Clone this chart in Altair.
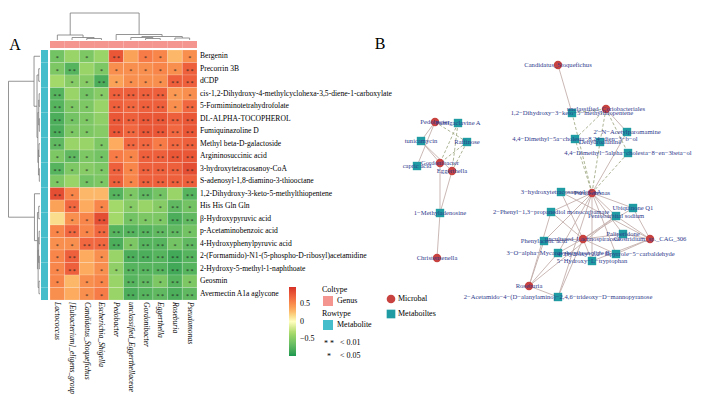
import altair as alt
import pandas as pd

# ---------------- Panel A data ----------------
rows = ["Bergenin", "Precorrin 3B", "dCDP",
        "cis-1,2-Dihydroxy-4-methylcyclohexa-3,5-diene-1-carboxylate",
        "5-Formiminotetrahydrofolate", "DL-ALPHA-TOCOPHEROL", "Fumiquinazoline D",
        "Methyl beta-D-galactoside", "Argininosuccinic acid", "3-hydroxytetracosanoy-CoA",
        "S-adenosyl-1,8-diamino-3-thiooctane", "1,2-Dihydroxy-3-keto-5-methylthiopentene",
        "His His Gln Gln", "\u03b2-Hydroxypyruvic acid", "p-Acetaminobenzoic acid",
        "4-Hydroxyphenylpyruvic acid", "2-(Formamido)-N1-(5-phospho-D-ribosyl)acetamidine",
        "2-Hydroxy-5-methyl-1-naphthoate", "Geosmin", "Avermectin A1a aglycone"]

cols = ["Lactococcus", "[Eubacterium]_eligens_group", "Candidatus_Stoquefichus",
        "Escherichia_Shigella", "Pedobacter", "unclassified_Eggerthellaceae",
        "Gordonibacter", "Eggerthella", "Roseburia", "Pseudomonas"]

corr = [
    [-0.60, -0.40, -0.55, -0.40, 0.80, 0.40, 0.60, 0.55, 0.30, 0.50],
    [-0.55, -0.75, -0.40, -0.55, 0.50, 0.50, 0.50, 0.55, 0.50, 0.75],
    [-0.35, -0.50, -0.50, -0.80, 0.40, 0.50, 0.50, 0.50, 0.75, 0.75],
    [-0.75, -0.40, -0.60, -0.50, 0.75, 0.75, 0.75, 0.75, 0.45, 0.50],
    [-0.75, -0.55, -0.55, -0.40, 0.75, 0.70, 0.75, 0.75, 0.50, 0.70],
    [-0.80, -0.60, -0.55, -0.45, 0.80, 0.75, 0.80, 0.80, 0.75, 0.80],
    [-0.80, -0.55, -0.55, -0.50, 0.80, 0.70, 0.80, 0.80, 0.70, 0.80],
    [-0.70, -0.40, -0.40, -0.55, 0.35, 0.70, 0.70, 0.60, 0.70, 0.75],
    [-0.55, -0.70, -0.55, -0.60, 0.60, 0.55, 0.75, 0.75, 0.80, 0.80],
    [-0.75, -0.55, -0.50, -0.55, 0.75, 0.55, 0.75, 0.75, 0.75, 0.85],
    [-0.55, -0.40, -0.60, -0.55, 0.75, 0.55, 0.75, 0.75, 0.75, 0.75],
    [0.85, 0.55, 0.30, 0.30, -0.75, -0.55, -0.70, -0.60, -0.40, -0.75],
    [0.40, 0.70, 0.35, 0.55, -0.35, -0.50, -0.40, -0.50, -0.70, -0.60],
    [0.15, 0.50, 0.55, 0.85, -0.35, -0.60, -0.55, -0.55, -0.80, -0.70],
    [0.55, 0.70, 0.55, 0.70, -0.75, -0.75, -0.75, -0.70, -0.70, -0.60],
    [0.50, 0.50, 0.70, 0.70, -0.80, -0.55, -0.75, -0.75, -0.60, -0.70],
    [0.55, 0.75, 0.35, 0.50, -0.40, -0.80, -0.80, -0.75, -0.85, -0.75],
    [0.55, 0.75, 0.35, 0.50, -0.45, -0.75, -0.75, -0.75, -0.85, -0.75],
    [0.55, 0.30, 0.50, 0.55, -0.40, -0.75, -0.70, -0.55, -0.75, -0.55],
    [0.50, 0.35, 0.50, 0.60, -0.40, -0.80, -0.75, -0.70, -0.80, -0.70],
]

# 0 = n.s., 1 = p<0.05, 2 = p<0.01
sig = [
    [1, 0, 1, 0, 2, 0, 1, 1, 0, 1],
    [1, 2, 0, 1, 1, 1, 1, 1, 1, 2],
    [0, 1, 1, 2, 1, 1, 1, 1, 2, 2],
    [2, 0, 1, 1, 2, 2, 2, 2, 1, 1],
    [2, 1, 1, 0, 2, 2, 2, 2, 1, 2],
    [2, 1, 1, 0, 2, 2, 2, 2, 2, 2],
    [2, 1, 1, 0, 2, 2, 2, 2, 2, 2],
    [2, 0, 0, 1, 0, 2, 2, 1, 2, 2],
    [1, 2, 1, 1, 1, 1, 2, 2, 2, 2],
    [2, 1, 1, 1, 2, 1, 2, 2, 2, 2],
    [1, 0, 1, 1, 2, 1, 2, 2, 2, 2],
    [2, 1, 0, 0, 2, 1, 2, 1, 0, 2],
    [0, 2, 0, 1, 0, 1, 0, 1, 2, 1],
    [0, 1, 1, 2, 0, 1, 1, 1, 2, 2],
    [1, 2, 1, 2, 2, 2, 2, 2, 2, 1],
    [1, 1, 2, 2, 2, 1, 2, 2, 1, 2],
    [1, 2, 0, 1, 0, 2, 2, 2, 2, 2],
    [1, 2, 0, 1, 1, 2, 2, 2, 2, 2],
    [1, 0, 1, 1, 0, 2, 2, 1, 2, 1],
    [0, 0, 1, 1, 0, 2, 2, 2, 2, 2],
]
sig_marks = ["", "*", "* *"]

# hierarchical clustering merges: (left id, right id, height); leaves are 0..n-1
col_merges = [(2, 3, 1.5), (1, 10, 2.5), (0, 11, 5.0), (6, 7, 1.5), (5, 13, 2.5),
              (8, 9, 2.0), (14, 15, 3.5), (4, 16, 5.5), (12, 17, 27.0)]
row_merges = [(1, 2, 1.5), (3, 4, 1.0), (5, 6, 0.8), (21, 22, 1.5), (7, 8, 1.2),
              (9, 10, 0.8), (24, 25, 1.8), (23, 26, 2.5), (20, 27, 3.5), (0, 28, 7.0),
              (12, 13, 1.5), (14, 15, 1.0), (16, 17, 0.8), (18, 19, 1.2), (31, 32, 1.6),
              (34, 33, 2.2), (30, 35, 3.0), (11, 36, 6.5), (29, 37, 37.0)]

# ---------------- Panel B data ----------------
net_names = ["Pedobacter", "Fumigaclavine A", "tunicamycin", "Raffinose", "Gordonibacter",
             "capric acid", "Eggerthella", "1-Methyladenosine", "Christensenella",
             "Candidatus_Stoquefichus", "1,2-Dihydroxy-3-keto-5-methylthiopentene",
             "unclassified_Coriobacteriales", "2'-N-Acetylparomamine",
             "4,4-Dimethyl-5a-cholesta-8,24-dien-3-b-ol", "Dehydroalanine",
             "4,4-Dimethyl-5alpha-cholesta-8-en-3beta-ol", "3-hydroxytetracosanoyl-CoA",
             "Pseudomonas", "Ubiquinone Q1", "2-Phenyl-1,3-propanediol monocarbamate",
             "Pentobarbital sodium", "Phenylacetic acid", "uncultured_Lachnospiraceae",
             "Paliperidone", "Clostridium_sp._CAG_306", "3-O-alpha-Mycarosylerythronolide B",
             "4-Hydroxy-2,2'-bipyrrole-5-carbaldehyde", "5-Hydroxy-L-tryptophan", "Roseburia",
             "2-Acetamido-4-(D-alanylamino)-2,4,6-trideoxy-D-mannopyranose"]
net_type = ["Microbal", "Metaboiltes", "Metaboiltes", "Metaboiltes", "Microbal",
            "Metaboiltes", "Microbal", "Metaboiltes", "Microbal",
            "Microbal", "Metaboiltes", "Microbal", "Metaboiltes", "Metaboiltes", "Metaboiltes",
            "Metaboiltes", "Metaboiltes", "Microbal", "Metaboiltes", "Metaboiltes",
            "Metaboiltes", "Metaboiltes", "Microbal", "Metaboiltes", "Microbal", "Metaboiltes",
            "Metaboiltes", "Metaboiltes", "Microbal", "Metaboiltes"]
# layout coordinates of the network
net_x = [435, 458, 421, 467, 440, 417, 452, 440, 437,
         558, 572, 606, 627, 575, 600, 628, 561, 592, 633, 551,
         616, 544, 583, 623, 650, 558, 616, 592, 529, 558]
net_y = [122, 123, 141, 142, 163, 166, 171, 213, 258,
         65, 113, 109, 132, 139, 142, 153, 192, 193, 208, 212,
         216, 241, 239, 234, 239, 253, 254, 261, 286, 297]

edges_pos = [(0, 5), (0, 2), (2, 4), (2, 6), (4, 7), (6, 7), (8, 7),
             (9, 10), (11, 12), (17, 12),
             (17, 16), (17, 18), (17, 19), (17, 20), (17, 23), (17, 21), (17, 25), (17, 26),
             (17, 27), (17, 29),
             (22, 16), (22, 19), (22, 18), (22, 20), (22, 23), (22, 21), (22, 25), (22, 26),
             (22, 27), (22, 29),
             (24, 18), (24, 20), (24, 23), (24, 26), (24, 27), (24, 16),
             (28, 21), (28, 29), (28, 25), (28, 20), (28, 19)]
edges_neg = [(0, 3), (1, 4), (1, 6), (3, 4), (3, 6),
             (11, 10), (11, 13), (11, 14), (11, 15),
             (17, 10), (17, 13), (17, 14), (17, 15)]

legend_types = ["Microbal", "Metaboiltes"]

# ---------------- styling / layout ----------------
SERIF = "Liberation Serif"
HM_X = [42, 189]
HM_Y = [42, 292]
heat_colors = ["#1a9850", "#66bd63", "#a6d96a", "#ffffbf", "#fdae61", "#f46d43", "#d73027"]
heat_domain = [-1, -2 / 3, -1 / 3, 0, 1 / 3, 2 / 3, 1]
NODE_COLORS = ["#C8423F", "#1F9CA3"]
LINE_GREY = "#7a7a7a"

xs_col = alt.Scale(domain=[0, 10], range=HM_X)
ys_row = alt.Scale(domain=[0, 20], range=HM_Y)

cells = []
for i, r in enumerate(rows):
    for j, c in enumerate(cols):
        cells.append(dict(row=r, col=c, ri=i, ri2=i + 1, rc=i + 0.5, ci=j, ci2=j + 1,
                          cc=j + 0.5, v=corr[i][j], s=sig_marks[sig[i][j]]))
cells = pd.DataFrame(cells)


def dendro(merges, n):
    pos = {k: k + 0.5 for k in range(n)}
    hgt = {k: 0.0 for k in range(n)}
    segs = []
    for k, (a, b, h) in enumerate(merges):
        segs.append(dict(p1=pos[a], h1=hgt[a], p2=pos[a], h2=h))
        segs.append(dict(p1=pos[b], h1=hgt[b], p2=pos[b], h2=h))
        segs.append(dict(p1=pos[a], h1=h, p2=pos[b], h2=h))
        pos[n + k] = (pos[a] + pos[b]) / 2
        hgt[n + k] = h
    return pd.DataFrame(segs)


col_seg = dendro(col_merges, len(cols))
row_seg = dendro(row_merges, len(rows))

heat = alt.Chart(cells).mark_rect(stroke="white", strokeWidth=0.3, strokeOpacity=0.6).encode(
    x=alt.X("ci:Q", scale=xs_col, axis=None), x2="ci2:Q",
    y=alt.Y("ri:Q", scale=ys_row, axis=None), y2="ri2:Q",
    color=alt.Color("v:Q", scale=alt.Scale(domain=heat_domain, range=heat_colors),
                    legend=alt.Legend(orient="none", legendX=281, legendY=279, title=None,
                                      gradientLength=69, gradientThickness=7,
                                      values=[0.5, 0, -0.5], format="~g", padding=0,
                                      labelFont=SERIF, labelFontSize=8, labelColor="black",
                                      labelOffset=4, gradientStrokeWidth=0, direction="vertical")))

stars = alt.Chart(cells).mark_text(font=SERIF, fontSize=6, color="#222", dy=1.8).encode(
    x=alt.X("cc:Q", scale=xs_col, axis=None),
    y=alt.Y("rc:Q", scale=ys_row, axis=None),
    text="s:N")

col_dendro = alt.Chart(col_seg).mark_rule(color=LINE_GREY, strokeWidth=0.8).encode(
    x=alt.X("p1:Q", scale=xs_col, axis=None), x2="p2:Q",
    y=alt.Y("h1:Q", scale=alt.Scale(domain=[0, 27], range=[32, 5]), axis=None), y2="h2:Q")

row_dendro = alt.Chart(row_seg).mark_rule(color=LINE_GREY, strokeWidth=0.8).encode(
    y=alt.Y("p1:Q", scale=ys_row, axis=None), y2="p2:Q",
    x=alt.X("h1:Q", scale=alt.Scale(domain=[0, 37], range=[32, 0.5]), axis=None), x2="h2:Q")

col_df = pd.DataFrame(dict(col=cols, ci=range(10), ci2=range(1, 11), cc=[k + 0.5 for k in range(10)],
                           t=["Genus"] * 10))
row_df = pd.DataFrame(dict(row=rows, ri=range(20), ri2=range(1, 21), rc=[k + 0.5 for k in range(20)],
                           t=["Metabolite"] * 20))

col_bar = alt.Chart(col_df).mark_rect(color="#F4958F").encode(
    x=alt.X("ci:Q", scale=xs_col, axis=None), x2="ci2:Q",
    y=alt.value(33), y2=alt.value(40))
row_bar = alt.Chart(row_df).mark_rect(color="#45BDCB").encode(
    y=alt.Y("ri:Q", scale=ys_row, axis=None), y2="ri2:Q",
    x=alt.value(33), x2=alt.value(40))

row_lab = alt.Chart(row_df).mark_text(font=SERIF, fontSize=7.6, align="left", baseline="middle",
                                      color="black").encode(
    y=alt.Y("rc:Q", scale=ys_row, axis=None), x=alt.value(192), text="row:N")
col_lab = alt.Chart(col_df).mark_text(font=SERIF, fontSize=7.6, fontStyle="italic", align="left",
                                      baseline="middle", angle=90, color="black").encode(
    x=alt.X("cc:Q", scale=xs_col, axis=None), y=alt.value(294), text="col:N")

# heatmap annotation legends
ann = pd.DataFrame(dict(
    txt=["Coltype", "Genus", "Rowtype", "Metabolite", "* *", "< 0.01", "*", "< 0.05"],
    px=[314, 329, 314, 329, 316, 332, 319, 332],
    py=[282, 293, 306, 317, 336, 335, 349, 348]))
ann_text = alt.Chart(ann).mark_text(font=SERIF, fontSize=8, align="left", baseline="middle",
                                    color="black").encode(
    x=alt.X("px:Q", scale=alt.Scale(domain=[0, 693], range=[0, 693]), axis=None),
    y=alt.Y("py:Q", scale=alt.Scale(domain=[0, 386], range=[0, 386]), axis=None),
    text="txt:N")
sw = pd.DataFrame(dict(t=["Genus", "Metabolite"], x1=[315, 315], x2=[325, 325],
                       y1=[288, 312], y2=[298, 322]))
ann_sw = alt.Chart(sw).mark_rect().encode(
    x=alt.X("x1:Q", scale=alt.Scale(domain=[0, 693], range=[0, 693]), axis=None), x2="x2:Q",
    y=alt.Y("y1:Q", scale=alt.Scale(domain=[0, 386], range=[0, 386]), axis=None), y2="y2:Q",
    color=alt.Color("t:N", scale=alt.Scale(domain=["Genus", "Metabolite"],
                                           range=["#F4958F", "#45BDCB"]), legend=None))

panel = pd.DataFrame(dict(t=["A", "B"], px=[7, 372], py=[37, 36]))
panel_txt = alt.Chart(panel).mark_text(font=SERIF, fontSize=16, align="center", baseline="middle",
                                       color="black").encode(
    x=alt.X("px:Q", scale=alt.Scale(domain=[0, 693], range=[0, 693]), axis=None),
    y=alt.Y("py:Q", scale=alt.Scale(domain=[0, 386], range=[0, 386]), axis=None),
    text="t:N")

# ---------------- network ----------------
NX = alt.Scale(domain=[8, 701], range=[0, 693])
NY = alt.Scale(domain=[8, 394], range=[0, 386])
nodes = pd.DataFrame(dict(name=net_names, type=net_type, x=net_x, y=net_y,
                          label=[n.replace("-", "\u2212") for n in net_names]))


def edge_df(pairs):
    return pd.DataFrame([dict(x=net_x[a], y=net_y[a], x2=net_x[b], y2=net_y[b]) for a, b in pairs])


e_pos = alt.Chart(edge_df(edges_pos)).mark_rule(color="#C4B0AD", strokeWidth=0.9).encode(
    x=alt.X("x:Q", scale=NX, axis=None), x2="x2:Q",
    y=alt.Y("y:Q", scale=NY, axis=None), y2="y2:Q")
e_neg = alt.Chart(edge_df(edges_neg)).mark_rule(color="#A3AD88", strokeWidth=0.9,
                                                 strokeDash=[3, 2]).encode(
    x=alt.X("x:Q", scale=NX, axis=None), x2="x2:Q",
    y=alt.Y("y:Q", scale=NY, axis=None), y2="y2:Q")

node_shape = alt.Scale(domain=legend_types, range=["circle", "square"])
node_color = alt.Scale(domain=legend_types, range=NODE_COLORS)

node_pts = alt.Chart(nodes).mark_point(filled=True, opacity=1, size=70).encode(
    x=alt.X("x:Q", scale=NX, axis=None),
    y=alt.Y("y:Q", scale=NY, axis=None),
    shape=alt.Shape("type:N", scale=node_shape, legend=None),
    color=alt.Color("type:N", scale=node_color, legend=None))
node_lab = alt.Chart(nodes).mark_text(font=SERIF, fontSize=6.6, color="#2E3A8C",
                                      align="center", baseline="middle").encode(
    x=alt.X("x:Q", scale=NX, axis=None),
    y=alt.Y("y:Q", scale=NY, axis=None),
    text="label:N")

leg = pd.DataFrame(dict(type=legend_types, px=[383, 383], py=[291, 306]))
leg_pts = alt.Chart(leg).mark_point(filled=True, opacity=1, size=75).encode(
    x=alt.X("px:Q", scale=alt.Scale(domain=[0, 693], range=[0, 693]), axis=None),
    y=alt.Y("py:Q", scale=alt.Scale(domain=[0, 386], range=[0, 386]), axis=None),
    shape=alt.Shape("type:N", scale=node_shape, legend=None),
    color=alt.Color("type:N", scale=node_color, legend=None))
leg_txt = alt.Chart(leg).mark_text(font=SERIF, fontSize=8, align="left", baseline="middle",
                                   color="black", dx=7).encode(
    x=alt.X("px:Q", scale=alt.Scale(domain=[0, 693], range=[0, 693]), axis=None),
    y=alt.Y("py:Q", scale=alt.Scale(domain=[0, 386], range=[0, 386]), axis=None),
    text="type:N")

chart = alt.layer(
    heat, stars, col_dendro, row_dendro, col_bar, row_bar, row_lab, col_lab,
    ann_sw, ann_text, panel_txt,
    e_pos, e_neg, node_pts, node_lab, leg_pts, leg_txt
).resolve_scale(
    x="independent", y="independent", color="independent", shape="independent"
).properties(
    width=693, height=386, padding=0, autosize="none", background="white"
).configure_view(stroke=None)

chart.save("out.html", embed_options={"renderer": "svg", "actions": False})
